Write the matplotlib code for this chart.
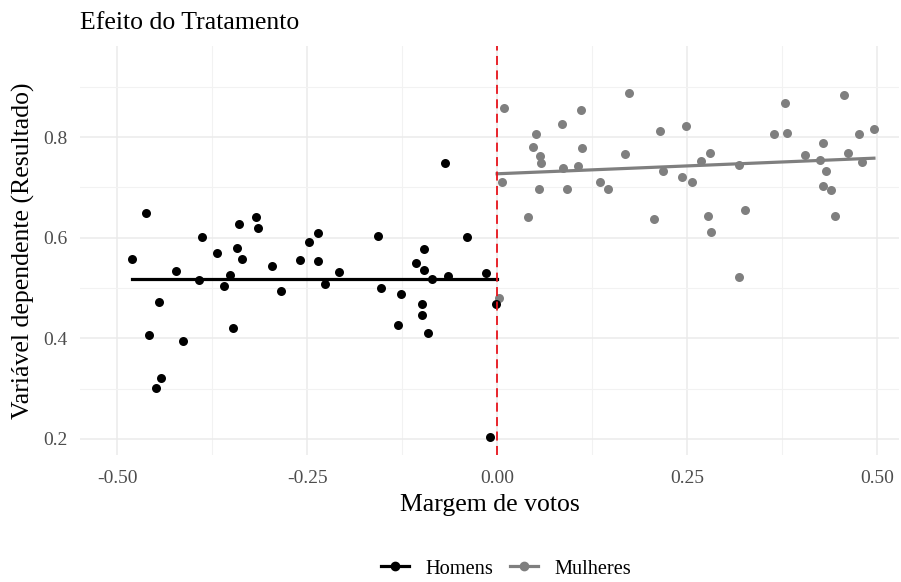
import matplotlib
matplotlib.use("Agg")
import matplotlib.pyplot as plt
from matplotlib.lines import Line2D
from matplotlib.ticker import MultipleLocator

plt.rcParams['font.family'] = ['Liberation Serif', 'DejaVu Serif']

# Homens (margem < 0)
x_homens = [-0.480, -0.462, -0.458, -0.445, -0.449, -0.442, -0.423, -0.414, -0.393, -0.388,
            -0.369, -0.359, -0.351, -0.348, -0.343, -0.340, -0.336, -0.318, -0.315, -0.296,
            -0.284, -0.260, -0.248, -0.236, -0.236, -0.226, -0.208, -0.157, -0.153, -0.131,
            -0.127, -0.107, -0.096, -0.096, -0.099, -0.099, -0.091, -0.086, -0.069, -0.065,
            -0.040, -0.015, -0.001, -0.009]
y_homens = [0.557, 0.649, 0.406, 0.473, 0.301, 0.321, 0.533, 0.394, 0.516, 0.601,
            0.569, 0.504, 0.526, 0.420, 0.579, 0.627, 0.557, 0.641, 0.619, 0.543,
            0.494, 0.555, 0.591, 0.609, 0.553, 0.508, 0.532, 0.603, 0.500, 0.426,
            0.488, 0.550, 0.577, 0.536, 0.468, 0.446, 0.410, 0.518, 0.748, 0.524,
            0.601, 0.530, 0.468, 0.204]

# Mulheres (margem > 0)
x_mulheres = [0.009, 0.007, 0.003, 0.041, 0.047, 0.051, 0.057, 0.058, 0.055, 0.086,
              0.087, 0.092, 0.111, 0.112, 0.107, 0.135, 0.146, 0.168, 0.174, 0.206,
              0.214, 0.219, 0.243, 0.248, 0.257, 0.269, 0.280, 0.277, 0.281, 0.318,
              0.319, 0.326, 0.365, 0.379, 0.381, 0.405, 0.429, 0.425, 0.433, 0.429,
              0.439, 0.445, 0.456, 0.462, 0.480, 0.476, 0.496]
y_mulheres = [0.858, 0.711, 0.480, 0.641, 0.780, 0.806, 0.762, 0.748, 0.697, 0.826,
              0.738, 0.697, 0.854, 0.778, 0.742, 0.711, 0.697, 0.766, 0.888, 0.637,
              0.812, 0.732, 0.720, 0.822, 0.711, 0.752, 0.768, 0.643, 0.611, 0.744,
              0.522, 0.655, 0.806, 0.868, 0.808, 0.764, 0.788, 0.754, 0.732, 0.703,
              0.695, 0.643, 0.883, 0.768, 0.750, 0.806, 0.816]

# linhas ajustadas
fit_x_homens = [-0.480, 0.0]
fit_y_homens = [0.518, 0.518]
fit_x_mulheres = [0.0, 0.496]
fit_y_mulheres = [0.727, 0.758]

x_ticks = [-0.50, -0.25, 0.00, 0.25, 0.50]
x_labels = ['-0.50', '-0.25', '0.00', '0.25', '0.50']
y_ticks = [0.2, 0.4, 0.6, 0.8]
y_labels = ['0.2', '0.4', '0.6', '0.8']

black = '#000000'
gray = '#7f7f7f'

fig = plt.figure(figsize=(9.01, 5.82), dpi=100)
ax = fig.add_axes([80 / 901, 1 - 455 / 582, 819 / 901, 409 / 582])

ax.scatter(x_mulheres, y_mulheres, s=42, color=gray, zorder=3, linewidths=0)
ax.scatter(x_homens, y_homens, s=42, color=black, zorder=3, linewidths=0)
ax.plot(fit_x_homens, fit_y_homens, color=black, lw=2.3, zorder=4)
ax.plot(fit_x_mulheres, fit_y_mulheres, color=gray, lw=2.3, zorder=4)
ax.axvline(0, color='#e8141c', lw=1.3, ls=(0, (5, 3)), zorder=5)

ax.set_xlim(-0.549, 0.529)
ax.set_ylim(0.168, 0.981)
ax.set_xticks(x_ticks)
ax.set_xticklabels(x_labels)
ax.set_yticks(y_ticks)
ax.set_yticklabels(y_labels)
ax.xaxis.set_minor_locator(MultipleLocator(0.125))
ax.yaxis.set_minor_locator(MultipleLocator(0.1))

ax.grid(True, which='major', color='#ebebeb', lw=1.1)
ax.grid(True, which='minor', color='#f2f2f2', lw=0.8)
ax.set_axisbelow(True)
for s in ax.spines.values():
    s.set_visible(False)
ax.tick_params(which='both', length=0)
ax.tick_params(axis='both', labelsize=14, labelcolor='#4d4d4d')
ax.tick_params(axis='x', pad=11)
ax.tick_params(axis='y', pad=9)

ax.set_title('Efeito do Tratamento', loc='left', fontsize=18.5, pad=12)
ax.set_xlabel('Margem de votos', fontsize=18.5, labelpad=5)
ax.set_ylabel('Variável dependente (Resultado)', fontsize=18.5, labelpad=6)

handles = [Line2D([], [], color=black, lw=2.3, marker='o', markersize=6),
           Line2D([], [], color=gray, lw=2.3, marker='o', markersize=6)]
fig.legend(handles, ['Homens', 'Mulheres'], loc='center', bbox_to_anchor=(506 / 901, 1 - 569 / 582),
           ncol=2, frameon=False, fontsize=14.7, handlelength=1.4, columnspacing=0.8,
           handletextpad=0.8, borderpad=0.2)

fig.savefig('out.png', dpi=100)
